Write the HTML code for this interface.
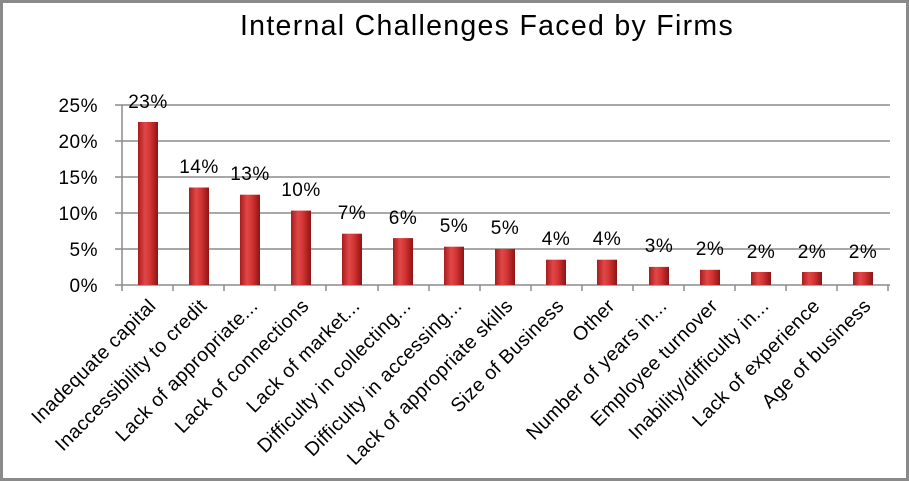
<!DOCTYPE html>
<html><head><style>body{margin:0;background:#fff}svg{display:block}</style></head><body>
<svg width="909" height="481" xmlns="http://www.w3.org/2000/svg" font-family="Liberation Sans, sans-serif">
<defs><linearGradient id="g" x1="0" x2="1" y1="0" y2="0"><stop offset="0" stop-color="#a81c1c"/><stop offset="0.35" stop-color="#e04848"/><stop offset="0.6" stop-color="#d43434"/><stop offset="1" stop-color="#8e1414"/></linearGradient></defs>
<rect x="1.5" y="1.5" width="906" height="478" fill="#fff" stroke="#8a8a8a" stroke-width="3"/>
<text x="487" y="35" font-size="28.5" letter-spacing="1.3" text-anchor="middle" fill="#000">Internal Challenges Faced by Firms</text>
<g stroke="#8c8c8c" stroke-width="1.5">
<line x1="115" x2="890" y1="105" y2="105"/><line x1="115" x2="890" y1="141" y2="141"/><line x1="115" x2="890" y1="177" y2="177"/><line x1="115" x2="890" y1="213" y2="213"/><line x1="115" x2="890" y1="249" y2="249"/><line x1="115" x2="890" y1="285" y2="285"/>
<line x1="122" x2="122" y1="105" y2="291"/>
<line x1="173" x2="173" y1="285" y2="291"/><line x1="224" x2="224" y1="285" y2="291"/><line x1="275" x2="275" y1="285" y2="291"/><line x1="326" x2="326" y1="285" y2="291"/><line x1="378" x2="378" y1="285" y2="291"/><line x1="429" x2="429" y1="285" y2="291"/><line x1="480" x2="480" y1="285" y2="291"/><line x1="531" x2="531" y1="285" y2="291"/><line x1="582" x2="582" y1="285" y2="291"/><line x1="633" x2="633" y1="285" y2="291"/><line x1="684" x2="684" y1="285" y2="291"/><line x1="735" x2="735" y1="285" y2="291"/><line x1="786" x2="786" y1="285" y2="291"/><line x1="837" x2="837" y1="285" y2="291"/><line x1="888" x2="888" y1="285" y2="291"/>
</g>
<g font-size="19" letter-spacing="0.5" text-anchor="end" fill="#000">
<text x="98" y="112">25%</text><text x="98" y="148">20%</text><text x="98" y="184">15%</text><text x="98" y="220">10%</text><text x="98" y="256">5%</text><text x="98" y="292">0%</text>
</g>
<g fill="url(#g)">
<rect x="138" y="122" width="20" height="163"/>
<rect x="189" y="187.5" width="20" height="97.5"/>
<rect x="240" y="194.7" width="20" height="90.3"/>
<rect x="291" y="210.6" width="20" height="74.4"/>
<rect x="342" y="233.7" width="20" height="51.3"/>
<rect x="393" y="238.1" width="20" height="46.9"/>
<rect x="444" y="246.7" width="20" height="38.3"/>
<rect x="495" y="248.9" width="20" height="36.1"/>
<rect x="546" y="259.7" width="20" height="25.3"/>
<rect x="597" y="259.7" width="20" height="25.3"/>
<rect x="649" y="266.9" width="20" height="18.1"/>
<rect x="700" y="269.8" width="20" height="15.2"/>
<rect x="751" y="272" width="20" height="13"/>
<rect x="802" y="272" width="20" height="13"/>
<rect x="853" y="272" width="20" height="13"/>
</g>
<g font-size="19" letter-spacing="0.5" text-anchor="middle" fill="#000">
<text x="148" y="108">23%</text><text x="199" y="173">14%</text><text x="250" y="180">13%</text><text x="301" y="196">10%</text><text x="352" y="219">7%</text><text x="403" y="224">6%</text><text x="454" y="232">5%</text><text x="505" y="234">5%</text><text x="556" y="245">4%</text><text x="607" y="245">4%</text><text x="659" y="252">3%</text><text x="710" y="255">2%</text><text x="761" y="258">2%</text><text x="812" y="258">2%</text><text x="863" y="258">2%</text>
</g>
<g font-size="19.5" letter-spacing="0.4" text-anchor="end" fill="#000">
<text transform="translate(157,307) rotate(-45)">Inadequate capital</text>
<text transform="translate(208,307) rotate(-45)">Inaccessibility to credit</text>
<text transform="translate(259,307) rotate(-45)">Lack of appropriate...</text>
<text transform="translate(310,307) rotate(-45)">Lack of connections</text>
<text transform="translate(361,307) rotate(-45)">Lack of market...</text>
<text transform="translate(412,307) rotate(-45)">Difficulty in collecting...</text>
<text transform="translate(463,307) rotate(-45)">Difficulty in accessing...</text>
<text transform="translate(514,307) rotate(-45)">Lack of appropriate skills</text>
<text transform="translate(565,307) rotate(-45)">Size of Business</text>
<text transform="translate(616,307) rotate(-45)">Other</text>
<text transform="translate(668,307) rotate(-45)">Number of years in...</text>
<text transform="translate(719,307) rotate(-45)">Employee turnover</text>
<text transform="translate(770,307) rotate(-45)">Inability/difficulty in...</text>
<text transform="translate(821,307) rotate(-45)">Lack of experience</text>
<text transform="translate(872,307) rotate(-45)">Age of business</text>
</g>
</svg>
</body></html>
